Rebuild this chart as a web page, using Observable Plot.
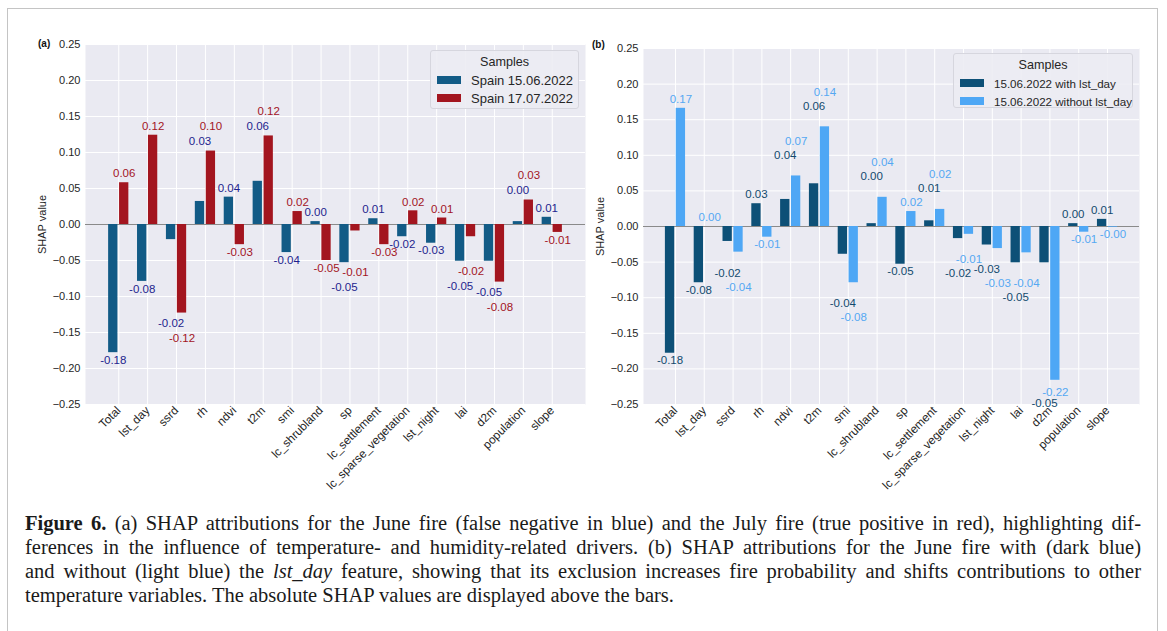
<!DOCTYPE html>
<html>
<head>
<meta charset="utf-8">
<script src="https://cdn.jsdelivr.net/npm/d3@7"></script>
<script src="https://cdn.jsdelivr.net/npm/@observablehq/plot@0.6"></script>
<style>
  body { margin: 0; background: #fff; }
  #fig { position: relative; width: 1167px; height: 631px; overflow: hidden;
         font-family: "Liberation Sans", Arial, sans-serif; color: #262626; }
  .border { position: absolute; left: 7px; top: 8px; width: 1151px; height: 700px;
            border: 1.5px solid #c4c4c4; box-sizing: border-box; }
  .panel { position: absolute; top: 0; }
  .tag { position: absolute; font-size: 10px; font-weight: bold; color: #111; }
  .legend { position: absolute; background: rgba(236,236,243,0.9); border: 1px solid #d6d6de;
            border-radius: 3px; box-sizing: border-box; color: #262626; white-space: nowrap; }
  .legend .title { text-align: center; margin-top: 3px; line-height: 17px; font-size: 12.6px; }
  .legend .row { display: flex; align-items: center; height: 18px; }
  .legend .sw { width: 24px; height: 8px; margin: 0 10px 0 6px; flex: none; }
  .caption { position: absolute; left: 25px; top: 511px; width: 1116px;
             font-family: "Liberation Serif", "Times New Roman", serif; font-size: 20.5px;
             line-height: 24px; color: #1a1a1a; }
  .caption div { text-align: justify; text-align-last: justify; }
  .caption div.last { text-align-last: left; }
</style>
</head>
<body>
<div id="fig">
  <div class="border"></div>
</div>
<script>
// Features on the x axis
const features = ["Total", "lst_day", "ssrd", "rh", "ndvi", "t2m", "smi", "lc_shrubland", "sp",
  "lc_settlement", "lc_sparse_vegetation", "lst_night", "lai", "d2m", "population", "slope"];

// SHAP values, June sample (with lst_day)
const juneWith = [-0.178, -0.079, -0.021, 0.032, 0.038, 0.060, -0.039, 0.004, -0.053,
  0.008, -0.017, -0.026, -0.051, -0.051, 0.004, 0.010];
// SHAP values, July sample
const july = [0.058, 0.124, -0.123, 0.102, -0.028, 0.123, 0.018, -0.050, -0.009,
  -0.028, 0.019, 0.009, -0.017, -0.080, 0.034, -0.011];
// SHAP values, June sample retrained without lst_day
const juneWithout = [0.166, 0.000, -0.036, -0.015, 0.071, 0.140, -0.079, 0.041, 0.021,
  0.024, -0.011, -0.031, -0.037, -0.216, -0.008, -0.001];

const yTicks = [-0.25, -0.20, -0.15, -0.10, -0.05, 0.00, 0.05, 0.10, 0.15, 0.20, 0.25];
const legendTitle = "Samples";
const seriesA = ["Spain 15.06.2022", "Spain 17.07.2022"];
const seriesB = ["15.06.2022 with lst_day", "15.06.2022 without lst_day"];

const fig = document.getElementById("fig");
const FONT = "'Liberation Sans', Arial, sans-serif";
const H = 495, FRAME_BOTTOM = 404, PAD_INNER = 0.3;

// Place value labels: close to each bar when the pair has opposite signs,
// stacked beyond the longer bar when both point the same way.
function labelPositions(a, b, pxPerUnit, near, far) {
  const offUp = 9, offDown = 7.5;
  const pa = a >= 0, pb = b >= 0;
  if (pa !== pb) {
    return [a + (pa ? offUp : -offDown) / pxPerUnit, b + (pb ? offUp : -offDown) / pxPerUnit];
  }
  const s = pa ? 1 : -1;
  const anchor = pa ? Math.max(a, b) : Math.min(a, b);
  const room = (0.25 - Math.abs(anchor)) * pxPerUnit;
  let dSmall = near, dLarge = far;
  if (far > room - 6) { dLarge = room - 12; dSmall = room - 1; }
  const aSmall = Math.abs(a) <= Math.abs(b);
  const da = aSmall ? dSmall : dLarge, db = aSmall ? dLarge : dSmall;
  return [anchor + s * da / pxPerUnit, anchor + s * db / pxPerUnit];
}

function panel({left, width, marginLeft, marginRight, marginTop, paddingOuter, v0, v1,
                fills, labelColors, near, far}) {
  const marginBottom = H - FRAME_BOTTOM;
  const base = {
    width, height: H, marginLeft, marginRight, marginTop, marginBottom,
    style: {background: "transparent", fontFamily: FONT, fontSize: "11px", color: "#262626"},
    x: {domain: features, paddingInner: PAD_INNER, paddingOuter, round: false, label: null},
    y: {domain: [-0.25, 0.25], label: null}
  };
  // measure the band width of the feature scale
  const probe = Plot.plot({...base, marks: [Plot.frame()]});
  const sx = probe.scale("x");
  let bw = sx.bandwidth;
  if (!(bw > 0)) {
    const step = sx.apply(features[1]) - sx.apply(features[0]);
    bw = step * (1 - PAD_INNER);
  }
  const pxPerUnit = (H - marginTop - marginBottom) / 0.5;

  const rows = features.map((f, i) => {
    const [la, lb] = labelPositions(v0[i], v1[i], pxPerUnit, near, far);
    return {feature: f, a: v0[i], b: v1[i], la, lb};
  });

  const chart = Plot.plot({
    ...base,
    marks: [
      Plot.frame({fill: "#eaeaf2", stroke: null}),
      Plot.gridY(yTicks, {stroke: "#fff", strokeOpacity: 1, strokeWidth: 1}),
      Plot.gridX({stroke: "#fff", strokeOpacity: 1, strokeWidth: 1}),
      Plot.ruleY([0], {stroke: "#8a8a8a", strokeWidth: 1.2}),
      Plot.barY(rows, {x: "feature", y: "a", fill: fills[0], insetRight: bw / 2}),
      Plot.barY(rows, {x: "feature", y: "b", fill: fills[1], insetLeft: bw / 2}),
      Plot.text(rows, {x: "feature", y: "la", text: d => d.a.toFixed(2), dx: -bw / 4,
        fill: labelColors[0], fontSize: 11.5}),
      Plot.text(rows, {x: "feature", y: "lb", text: d => d.b.toFixed(2), dx: bw / 4,
        fill: labelColors[1], fontSize: 11.5}),
      Plot.axisY(yTicks, {tickFormat: d3.format(".2f"), tickSize: 0, tickPadding: 5,
        fontSize: 11, fill: "#262626", label: "SHAP value", labelAnchor: "center",
        labelOffset: 47, labelArrow: false}),
      Plot.axisX({tickRotate: -45, tickSize: 0, tickPadding: 4, fontSize: 11.8,
        fill: "#262626", label: null})
    ]
  });
  const wrap = document.createElement("div");
  wrap.className = "panel";
  wrap.style.left = left + "px";
  wrap.appendChild(chart);
  fig.appendChild(wrap);
}

function legend({left, top, width, height, names, fills, fontSize}) {
  const el = document.createElement("div");
  el.className = "legend";
  Object.assign(el.style, {left: left + "px", top: top + "px", width: width + "px", height: height + "px"});
  const t = document.createElement("div");
  t.className = "title";
  t.textContent = legendTitle;
  el.appendChild(t);
  names.forEach((n, i) => {
    const r = document.createElement("div");
    r.className = "row";
    r.style.fontSize = fontSize + "px";
    const sw = document.createElement("span");
    sw.className = "sw";
    sw.style.background = fills[i];
    const tx = document.createElement("span");
    tx.textContent = n;
    r.appendChild(sw); r.appendChild(tx);
    el.appendChild(r);
  });
  fig.appendChild(el);
}

function tag(text, left, top) {
  const el = document.createElement("div");
  el.className = "tag";
  el.textContent = text;
  el.style.left = left + "px";
  el.style.top = top + "px";
  fig.appendChild(el);
}

const colA = ["#125b86", "#a3151f"];
const colB = ["#0d5077", "#4ea7f5"];

panel({left: 0, width: 590, marginLeft: 85, marginRight: 5, marginTop: 44, paddingOuter: 0.8,
  v0: juneWith, v1: july, fills: colA, labelColors: ["#1e1f8e", "#a3151f"],
  near: 10, far: 25});
panel({left: 560, width: 600, marginLeft: 83, marginRight: 21, marginTop: 48, paddingOuter: 0.76,
  v0: juneWith, v1: juneWithout, fills: colB, labelColors: ["#124a6e", "#55a8f2"],
  near: 21, far: 35});

legend({left: 430, top: 50, width: 149, height: 59, names: seriesA, fills: colA, fontSize: 13});
legend({left: 953, top: 53, width: 180, height: 55, names: seriesB, fills: colB, fontSize: 11.6});

tag("(a)", 38, 38);
tag("(b)", 592, 39);

const cap = document.createElement("div");
cap.className = "caption";
cap.innerHTML =
  "<div><b>Figure 6.</b> (a) SHAP attributions for the June fire (false negative in blue) and the July fire (true positive in red), highlighting dif-</div>" +
  "<div>ferences in the influence of temperature- and humidity-related drivers. (b) SHAP attributions for the June fire with (dark blue)</div>" +
  "<div>and without (light blue) the <i>lst_day</i> feature, showing that its exclusion increases fire probability and shifts contributions to other</div>" +
  "<div class=\"last\">temperature variables. The absolute SHAP values are displayed above the bars.</div>";
fig.appendChild(cap);
</script>
</body>
</html>
